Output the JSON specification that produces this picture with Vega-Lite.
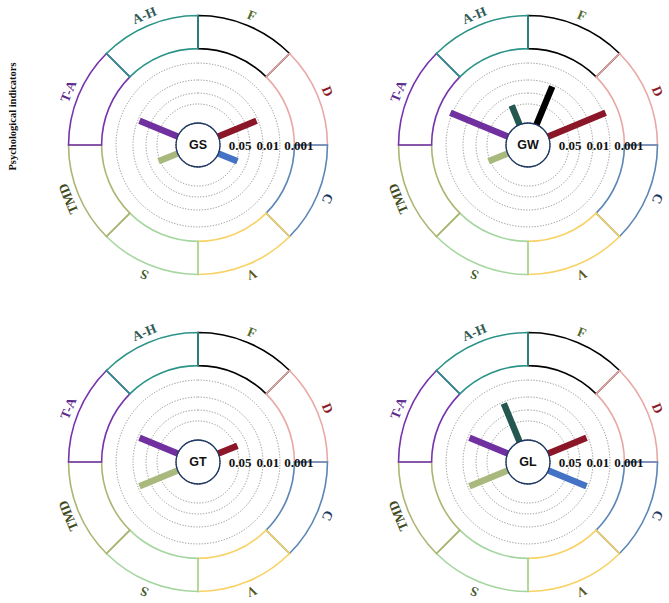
{
  "$schema": "https://vega.github.io/schema/vega-lite/v6.json",
  "width": 669,
  "height": 603,
  "autosize": "none",
  "padding": 0,
  "config": {"view": {"stroke": null}},
  "datasets": {
    "panels": [
      {"panel": "GS", "col": "L", "row": "T"},
      {"panel": "GW", "col": "R", "row": "T"},
      {"panel": "GT", "col": "L", "row": "B"},
      {"panel": "GL", "col": "R", "row": "B"}
    ],
    "cats": [
      {"cat": "F", "i": 0, "panel": ["GS", "GW", "GT", "GL"]},
      {"cat": "D", "i": 1, "panel": ["GS", "GW", "GT", "GL"]},
      {"cat": "C", "i": 2, "panel": ["GS", "GW", "GT", "GL"]},
      {"cat": "V", "i": 3, "panel": ["GS", "GW", "GT", "GL"]},
      {"cat": "S", "i": 4, "panel": ["GS", "GW", "GT", "GL"]},
      {"cat": "TMD", "i": 5, "panel": ["GS", "GW", "GT", "GL"]},
      {"cat": "T-A", "i": 6, "panel": ["GS", "GW", "GT", "GL"]},
      {"cat": "A-H", "i": 7, "panel": ["GS", "GW", "GT", "GL"]}
    ],
    "grid": [
      {"g": 0.92, "panel": ["GS", "GW", "GT", "GL"]},
      {"g": 1.45, "panel": ["GS", "GW", "GT", "GL"]},
      {"g": 2.08, "panel": ["GS", "GW", "GT", "GL"]},
      {"g": 2.9, "panel": ["GS", "GW", "GT", "GL"]}
    ],
    "sig": [
      {"label": "0.05", "pos": 0.97, "panel": ["GS", "GW", "GT", "GL"]},
      {"label": "0.01", "pos": 2.32, "panel": ["GS", "GW", "GT", "GL"]},
      {"label": "0.001", "pos": 3.82, "panel": ["GS", "GW", "GT", "GL"]}
    ],
    "bars": [
      {"panel": "GS", "cat": "D", "level": 2},
      {"panel": "GS", "cat": "C", "level": 1},
      {"panel": "GS", "cat": "TMD", "level": 1},
      {"panel": "GS", "cat": "T-A", "level": 2},
      {"panel": "GW", "cat": "F", "level": 2},
      {"panel": "GW", "cat": "D", "level": 3},
      {"panel": "GW", "cat": "TMD", "level": 1},
      {"panel": "GW", "cat": "T-A", "level": 3},
      {"panel": "GW", "cat": "A-H", "level": 1},
      {"panel": "GT", "cat": "D", "level": 1},
      {"panel": "GT", "cat": "TMD", "level": 2},
      {"panel": "GT", "cat": "T-A", "level": 2},
      {"panel": "GL", "cat": "D", "level": 2},
      {"panel": "GL", "cat": "C", "level": 2},
      {"panel": "GL", "cat": "TMD", "level": 2},
      {"panel": "GL", "cat": "T-A", "level": 2},
      {"panel": "GL", "cat": "A-H", "level": 2}
    ]
  },
  "encoding": {
    "x": {"field": "col", "type": "nominal", "scale": {"type": "point", "domain": ["L", "R"], "range": [198, 528], "padding": 0}, "axis": null},
    "y": {
      "field": "row", "type": "nominal",
      "scale": {"type": "point", "domain": ["T", "B"], "range": [145, 462], "padding": 0},
      "axis": {
        "title": "Psychological indicators", "labels": false, "ticks": false, "domain": false, "grid": false,
        "titleX": 12, "titleY": 116, "titleAngle": 270, "titleAlign": "center", "titleBaseline": "middle",
        "titleFont": "Liberation Serif", "titleFontSize": 10.5, "titleFontWeight": "bold", "titleColor": "#111111"
      }
    }
  },
  "layer": [
    {
      "data": {"name": "grid"},
      "transform": [
        {"flatten": ["panel"]},
        {"lookup": "panel", "from": {"data": {"name": "panels"}, "key": "panel", "fields": ["col", "row"]}}
      ],
      "mark": {"type": "arc", "filled": false, "stroke": "#8f8f8f", "strokeWidth": 1, "strokeDash": [1.2, 1.6]},
      "encoding": {
        "theta": {"datum": 0, "type": "quantitative", "scale": {"domain": [0, 8], "range": [0, 6.283185307179586]}},
        "theta2": {"datum": 8},
        "radius": {"field": "g", "type": "quantitative", "stack": null, "scale": {"type": "linear", "domain": [0, 3], "range": [22, 84], "zero": false}}
      }
    },
    {
      "data": {"name": "cats"},
      "transform": [
        {"flatten": ["panel"]},
        {"lookup": "panel", "from": {"data": {"name": "panels"}, "key": "panel", "fields": ["col", "row"]}}
      ],
      "mark": {"type": "arc", "filled": false, "strokeWidth": 1.6, "theta2Offset": 0.7853981633974483},
      "encoding": {
        "theta": {"field": "i", "type": "quantitative", "stack": null, "scale": {"domain": [0, 8], "range": [0, 6.283185307179586]}},
        "theta2": {"field": "i"},
        "radius": {"datum": 5.2, "type": "quantitative", "scale": {"type": "linear", "domain": [0, 3], "range": [22, 84], "zero": false}},
        "radius2": {"datum": 3.6},
        "stroke": {"field": "cat", "type": "nominal", "legend": null, "scale": {"domain": ["F", "D", "C", "V", "S", "TMD", "T-A", "A-H"], "range": ["#000000", "#e8a8a6", "#5b86b6", "#f8d264", "#a6d6a0", "#adb573", "#7633ad", "#2b9488"]}}
      }
    },
    {
      "data": {"name": "cats"},
      "transform": [
        {"flatten": ["panel"]},
        {"lookup": "panel", "from": {"data": {"name": "panels"}, "key": "panel", "fields": ["col", "row"]}}
      ],
      "mark": {"type": "text", "font": "Liberation Serif", "fontSize": 13.5, "fontWeight": "bold", "align": "center", "baseline": "middle", "thetaOffset": 0.39269908169872414},
      "encoding": {
        "theta": {"field": "i", "type": "quantitative", "stack": null, "scale": {"domain": [0, 8], "range": [0, 6.283185307179586]}},
        "radius": {"datum": 5.7, "type": "quantitative", "scale": {"type": "linear", "domain": [0, 3], "range": [22, 84], "zero": false}},
        "angle": {"field": "i", "type": "quantitative", "legend": null, "scale": {"domain": [0, 8], "range": [22.5, 382.5]}},
        "fill": {"field": "cat", "type": "nominal", "legend": null, "scale": {"domain": ["F", "D", "C", "V", "S", "TMD", "T-A", "A-H"], "range": ["#4d6a2a", "#8a1a28", "#1f3864", "#5a5420", "#3f5c2c", "#404a1c", "#5c2b8c", "#2f5a56"]}},
        "text": {"field": "cat", "type": "nominal"}
      }
    },
    {
      "data": {"name": "bars"},
      "transform": [
        {"lookup": "panel", "from": {"data": {"name": "panels"}, "key": "panel", "fields": ["col", "row"]}},
        {"lookup": "cat", "from": {"data": {"name": "cats"}, "key": "cat", "fields": ["i"]}}
      ],
      "mark": {"type": "arc", "filled": false, "strokeWidth": 6.5, "strokeJoin": "bevel", "thetaOffset": 0.39269908169872414, "theta2Offset": 0.39269908169872414},
      "encoding": {
        "theta": {"field": "i", "type": "quantitative", "stack": null, "scale": {"domain": [0, 8], "range": [0, 6.283185307179586]}},
        "theta2": {"field": "i"},
        "radius": {"field": "level", "type": "quantitative", "stack": null, "scale": {"type": "linear", "domain": [0, 3], "range": [22, 84], "zero": false}},
        "radius2": {"datum": 0},
        "color": {"field": "cat", "type": "nominal", "legend": null, "scale": {"domain": ["F", "D", "C", "V", "S", "TMD", "T-A", "A-H"], "range": ["#000000", "#8a1627", "#4472c4", "#e0c050", "#90c890", "#a9b97d", "#7030a0", "#23574f"]}}
      }
    },
    {
      "data": {"name": "panels"},
      "mark": {"type": "arc", "fill": "#ffffff", "stroke": "#1f3864", "strokeWidth": 1.3},
      "encoding": {
        "theta": {"datum": 0, "type": "quantitative", "scale": {"domain": [0, 8], "range": [0, 6.283185307179586]}},
        "theta2": {"datum": 8},
        "radius": {"datum": 0, "type": "quantitative", "scale": {"type": "linear", "domain": [0, 3], "range": [22, 84], "zero": false}}
      }
    },
    {
      "data": {"name": "panels"},
      "mark": {"type": "text", "font": "Liberation Sans", "fontSize": 12.5, "fontWeight": "bold", "align": "center", "baseline": "middle", "color": "#111111"},
      "encoding": {
        "text": {"field": "panel", "type": "nominal"}
      }
    },
    {
      "data": {"name": "sig"},
      "transform": [
        {"flatten": ["panel"]},
        {"lookup": "panel", "from": {"data": {"name": "panels"}, "key": "panel", "fields": ["col", "row"]}}
      ],
      "mark": {"type": "text", "font": "Liberation Serif", "fontSize": 13, "fontWeight": "bold", "align": "center", "baseline": "middle", "dy": 1, "color": "#111111"},
      "encoding": {
        "theta": {"datum": 2, "type": "quantitative", "scale": {"domain": [0, 8], "range": [0, 6.283185307179586]}},
        "radius": {"field": "pos", "type": "quantitative", "stack": null, "scale": {"type": "linear", "domain": [0, 3], "range": [22, 84], "zero": false}},
        "text": {"field": "label", "type": "nominal"}
      }
    }
  ]
}
